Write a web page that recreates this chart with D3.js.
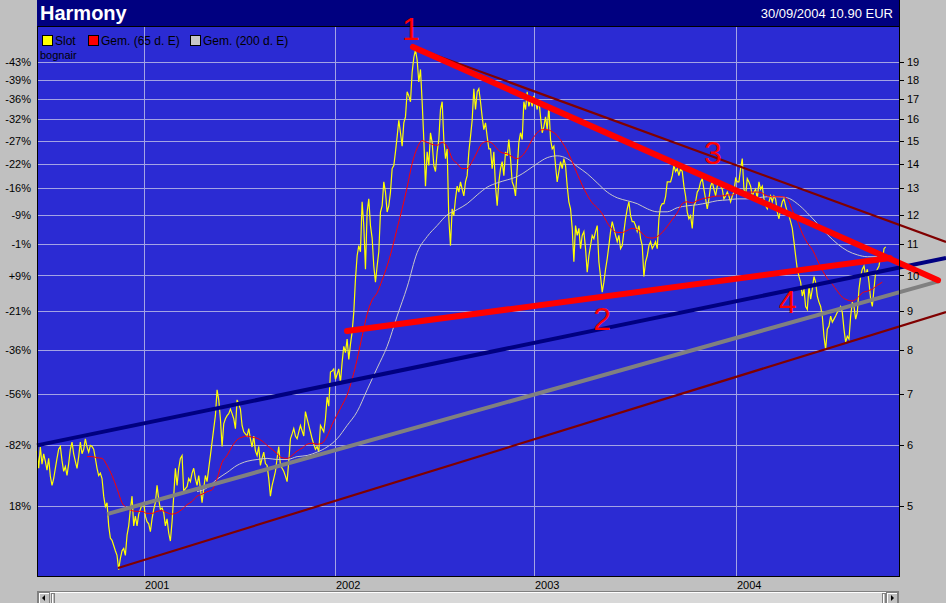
<!DOCTYPE html>
<html><head><meta charset="utf-8">
<script src="https://cdn.jsdelivr.net/npm/d3@7"></script>
<style>
html,body{margin:0;padding:0;background:#c0c0c0;overflow:hidden}
svg{display:block;font-family:"Liberation Sans",Arial,sans-serif}
</style></head><body>
<svg id="chart" width="946" height="603"></svg>
<script>
// ---------------- data ----------------
const title = "Harmony";
const lastQuote = "30/09/2004 10.90 EUR";
const legendItems = ["Slot", "Gem. (65 d. E)", "Gem. (200 d. E)"];
const subLabel = "bognair";
const priceTicks = [19, 18, 17, 16, 15, 14, 13, 12, 11, 10, 9, 8, 7, 6, 5];
const pctLabels = ["-43%", "-39%", "-36%", "-32%", "-27%", "-22%", "-16%", "-9%", "-1%", "+9%", "-21%", "-36%", "-56%", "-82%", "18%"];
const yearLabels = ["2001", "2002", "2003", "2004"];
const yearStartIdx = [64, 179, 298, 419];   // sample index at which each year starts
const sampleCount = 517;                      // samples across the full plot width

// closing price (Slot), one sample per period
const slot = [
5.90,5.60,5.97,5.67,5.85,5.72,5.57,5.77,5.47,5.32,
5.43,5.60,5.77,5.93,5.98,5.73,5.55,5.63,5.48,5.68,
5.93,6.06,5.85,5.72,5.60,5.80,6.06,5.85,5.93,6.12,
5.97,5.88,6.00,5.98,5.93,5.77,5.60,5.48,5.52,5.43,
5.15,4.99,5.05,4.71,4.54,4.51,4.44,4.37,4.31,4.13,
4.27,4.37,4.40,4.31,4.58,4.71,4.95,5.15,4.71,4.85,
4.71,4.88,4.95,5.02,5.05,4.85,4.77,4.74,4.63,4.81,
4.95,5.05,5.32,5.10,4.95,4.97,4.90,4.71,4.81,4.61,
4.50,4.77,5.15,5.60,5.32,5.60,5.77,5.82,5.22,5.27,
5.30,5.43,5.38,5.52,5.60,5.43,5.32,5.48,5.27,5.05,
5.27,5.48,5.38,5.60,5.82,6.06,6.31,6.56,7.09,6.88,
6.50,5.98,6.40,6.50,6.56,6.60,6.69,6.60,6.50,6.31,
6.88,6.79,6.69,6.37,6.25,6.21,6.17,6.31,6.12,5.97,
6.17,5.90,5.82,5.98,5.65,5.77,5.88,5.68,5.65,5.43,
5.15,5.32,5.43,5.55,5.77,5.98,5.65,5.60,5.55,5.47,
5.38,5.72,6.12,6.21,6.31,6.17,6.12,6.25,6.37,6.27,
6.17,6.64,6.50,6.37,6.25,6.12,6.02,5.93,5.98,5.88,
6.37,6.31,6.25,6.50,6.94,6.75,7.48,7.50,7.55,7.32,
7.43,7.55,7.25,7.70,8.08,7.93,8.26,7.77,8.13,8.44,
8.95,9.89,10.61,10.94,10.74,12.48,11.62,10.19,12.10,12.59,
11.62,11.19,10.29,9.80,10.29,10.74,12.10,12.33,13.25,12.85,
12.10,12.33,12.85,13.79,13.92,14.50,15.18,15.95,15.36,14.75,
15.82,16.11,17.37,17.16,16.86,18.42,19.26,19.70,19.11,17.89,
18.58,16.86,15.05,13.08,14.50,13.92,15.36,14.92,13.92,13.67,
14.50,15.05,16.47,16.86,15.05,14.21,14.63,11.86,10.94,12.22,
11.97,12.59,13.08,12.85,13.25,12.96,12.70,13.25,13.50,14.50,
15.18,15.95,17.53,16.47,17.37,17.53,16.86,16.11,15.50,15.82,
15.18,14.63,14.63,13.79,14.50,13.08,12.33,13.25,13.79,14.08,
13.50,14.50,14.33,15.05,14.21,13.25,13.08,12.70,13.79,14.92,
15.36,15.05,16.86,16.47,17.37,16.63,17.00,16.63,17.16,16.86,
16.47,17.00,16.11,15.36,15.64,16.11,15.50,16.63,15.05,14.63,
14.75,13.92,13.25,13.67,14.08,13.79,14.21,13.92,13.08,12.48,
12.22,11.52,10.42,11.62,11.28,11.52,10.84,11.28,11.41,10.84,
10.10,10.61,10.94,11.28,11.17,11.41,11.62,10.42,9.97,9.51,
9.80,10.19,10.52,10.94,11.41,11.76,11.52,11.28,11.07,11.28,
10.84,10.94,11.41,11.86,12.22,12.48,11.97,11.76,11.76,11.62,
11.41,11.62,11.17,10.94,9.97,10.42,10.61,10.94,11.07,10.84,
10.94,11.07,10.84,11.86,12.30,12.41,12.41,12.67,13.25,13.25,
13.25,13.50,13.92,13.67,13.79,13.50,13.79,13.67,13.08,12.70,
12.10,11.86,11.97,11.52,12.33,12.48,12.85,12.96,13.25,13.38,
12.96,12.59,12.22,12.59,13.08,13.25,12.96,12.70,13.08,13.25,
13.08,12.96,12.59,12.70,12.85,12.70,12.48,12.70,12.85,13.38,
13.25,13.25,13.79,14.21,12.96,12.70,13.38,13.25,13.08,12.70,
12.85,12.96,12.59,13.25,12.96,13.08,12.59,12.33,12.22,12.48,
12.70,12.48,12.70,12.59,12.10,11.86,12.22,12.48,12.59,12.33,
12.10,11.97,11.76,11.52,11.07,10.61,10.19,9.97,9.80,9.40,
9.60,9.11,9.03,9.69,9.31,9.60,9.97,9.80,9.40,9.23,
9.11,8.85,8.33,8.00,8.51,8.59,8.85,8.69,8.77,8.85,
8.95,9.03,9.11,8.95,8.51,8.18,8.33,8.26,8.85,9.23,
9.11,8.77,8.95,9.60,9.97,10.19,10.29,9.97,10.19,9.80,
9.31,9.11,9.60,10.10,10.19,10.29,10.61,10.42,10.84,10.90
];

// 65-day exponential average
const gem65Start = 30, gem65Step = 3;
const gem65 = [
5.80,5.80,5.78,5.77,5.65,5.48,5.27,5.05,4.97,4.93,
4.92,4.92,4.89,4.89,4.92,4.93,4.90,4.88,4.90,4.95,
5.02,5.07,5.15,5.18,5.22,5.25,5.43,5.70,5.82,5.98,
6.10,6.15,6.17,6.15,6.13,6.08,6.00,5.93,5.85,5.78,
5.77,5.82,5.90,5.95,6.02,6.04,6.02,6.04,6.17,6.39,
6.58,6.77,6.98,7.32,7.77,8.33,8.90,9.29,9.49,9.86,
10.29,10.84,11.52,12.22,13.04,14.00,14.67,15.00,14.92,14.83,
14.79,14.92,14.75,14.21,14.00,13.79,13.79,14.08,14.50,14.88,
14.96,14.88,14.63,14.46,14.42,14.29,14.21,14.33,14.63,15.05,
15.36,15.50,15.50,15.41,15.23,14.92,14.54,14.08,13.58,13.12,
12.74,12.44,12.26,12.04,11.72,11.48,11.38,11.38,11.45,11.52,
11.48,11.35,11.21,11.19,11.24,11.38,11.59,11.83,12.07,12.41,
12.48,12.44,12.52,12.59,12.63,12.67,12.70,12.70,12.74,12.74,
12.81,12.85,12.85,12.85,12.85,12.81,12.70,12.67,12.67,12.67,
12.59,12.17,11.79,11.35,11.03,10.81,10.48,10.16,9.91,9.74,
9.54,9.37,9.29,9.26,9.34,9.49,9.54,9.60,9.71,9.80
];

// 200-day exponential average
const gem200Start = 96, gem200Step = 6;
const gem200 = [
5.22,5.28,5.42,5.53,5.65,5.72,5.75,5.77,5.75,5.75,
5.80,5.82,5.88,5.97,6.12,6.37,6.64,7.09,7.57,8.08,
8.85,9.66,10.71,11.24,11.62,12.00,12.19,12.41,12.74,13.04,
13.21,13.33,13.46,13.71,14.00,14.25,14.33,14.21,13.88,13.58,
13.21,12.85,12.63,12.52,12.41,12.22,12.11,12.11,12.26,12.33,
12.37,12.44,12.52,12.55,12.59,12.59,12.63,12.67,12.67,12.63,
12.41,12.07,11.69,11.31,11.00,10.77,10.64,10.58,10.58
];

// hand-drawn trend lines: [sampleIndex, price] end points
const lineRed1 = [[225.5, 19.88], [540.4, 9.86]];
const lineRed2 = [[185.9, 8.46], [511.6, 10.54]];
const lineMaroonTop = [[225.5, 19.88], [545.2, 11.06]];
const lineMaroonBottom = [[48.6, 4.15], [545.2, 8.96]];
const lineNavy = [[0, 6.00], [545.2, 10.54]];
const lineGray = [[42, 4.88], [541.6, 9.84]];

// wave count annotations
const waveText = ["1", "2", "3", "4"];
const waveIdx = [224.3, 338.9, 405.4, 450.2];
const wavePrice = [20.30, 8.49, 13.98, 8.93];

// ---------------- drawing ----------------
const W = 946, H = 603;
const L = 37, R = 899, T = 27, B = 576;
const COL = {
  bg: "#c0c0c0", header: "#000080", plot: "#2b2bd3", grid: "#a4a4e4",
  slot: "#ffff00", g65: "#ff0000", g200: "#c8c8c8"
};

const svg = d3.select("#chart");
const x = d3.scaleLinear().domain([0, sampleCount]).range([L, R]);
const y = d3.scaleLog().domain([5, 19]).range([506, 62]);

svg.append("rect").attr("width", W).attr("height", H).attr("fill", COL.bg);
svg.append("rect").attr("x", L).attr("y", 0).attr("width", R - L).attr("height", T).attr("fill", COL.header);
svg.append("rect").attr("x", L).attr("y", T).attr("width", R - L).attr("height", B - T).attr("fill", COL.plot);

// grid
const grid = svg.append("g").attr("shape-rendering", "crispEdges");
grid.selectAll("line.h").data(priceTicks).join("line")
  .attr("x1", L).attr("x2", R)
  .attr("y1", d => Math.round(y(d)) + 0.5).attr("y2", d => Math.round(y(d)) + 0.5)
  .attr("stroke", COL.grid).attr("stroke-width", 1);
grid.selectAll("line.v").data(yearStartIdx).join("line")
  .attr("x1", d => Math.round(x(d)) + 0.5).attr("x2", d => Math.round(x(d)) + 0.5)
  .attr("y1", T).attr("y2", B)
  .attr("stroke", COL.grid).attr("stroke-width", 1);

// legend
const lg = svg.append("g").attr("font-size", 12).attr("fill", "#000");
const legendX = [42, 88, 190];
const legendCol = [COL.slot, COL.g65, COL.g200];
legendItems.forEach((t, i) => {
  lg.append("rect").attr("x", legendX[i] + 0.5).attr("y", 35.5).attr("width", 10).attr("height", 10)
    .attr("fill", legendCol[i]).attr("stroke", "#000").attr("stroke-width", 1);
  lg.append("text").attr("x", legendX[i] + 13).attr("y", 45).text(t);
});
svg.append("text").attr("x", 40).attr("y", 59).attr("font-size", 11).attr("fill", "#000").text(subLabel);

// series
const line = d3.line().x(d => x(d[0])).y(d => y(d[1]));
const smooth = d3.line().x(d => x(d[0])).y(d => y(d[1])).curve(d3.curveMonotoneX);
const slotPts = slot.map((v, i) => [i, v]);
const g65Pts = gem65.map((v, i) => [gem65Start + i * gem65Step, v]);
const g200Pts = gem200.map((v, i) => [gem200Start + i * gem200Step, v]);

svg.append("path").datum(slotPts).attr("d", line).attr("fill", "none")
  .attr("stroke", COL.slot).attr("stroke-width", 1.2);
svg.append("path").datum(g200Pts).attr("d", smooth).attr("fill", "none")
  .attr("stroke", COL.g200).attr("stroke-width", 1);
svg.append("path").datum(g65Pts).attr("d", smooth).attr("fill", "none")
  .attr("stroke", COL.g65).attr("stroke-width", 1);

// trend lines
function trend(pts, color, w, cap) {
  svg.append("path").datum(pts).attr("d", line).attr("fill", "none")
    .attr("stroke", color).attr("stroke-width", w).attr("stroke-linecap", cap || "butt");
}
trend(lineMaroonTop, "#800000", 2.2);
trend(lineMaroonBottom, "#800000", 2.2);
trend(lineNavy, "#000080", 4);
trend(lineGray, "#808080", 4);
trend(lineRed2, "#ff0000", 6, "round");
trend(lineRed1, "#ff0000", 6, "round");

// border
svg.append("g").attr("shape-rendering", "crispEdges").call(g => {
  g.append("line").attr("x1", L).attr("x2", R + 1).attr("y1", T - 0.5).attr("y2", T - 0.5).attr("stroke", "#000");
  g.append("line").attr("x1", L + 0.5).attr("x2", L + 0.5).attr("y1", T).attr("y2", B + 1).attr("stroke", "#000");
  g.append("line").attr("x1", R + 0.5).attr("x2", R + 0.5).attr("y1", 0).attr("y2", B + 1).attr("stroke", "#000");
  g.append("line").attr("x1", L).attr("x2", R + 1).attr("y1", B + 0.5).attr("y2", B + 0.5).attr("stroke", "#000");
});

// right axis (price)
const ra = svg.append("g").attr("transform", `translate(${R + 1},0)`)
  .call(d3.axisRight(y).tickValues(priceTicks).tickFormat(d3.format("d")).tickSize(4).tickPadding(3));
ra.select(".domain").remove();
ra.selectAll("text").attr("font-size", 11).attr("font-family", "Liberation Sans, Arial, sans-serif").attr("fill", "#000");
ra.selectAll("line").attr("stroke", "#000").attr("shape-rendering", "crispEdges");

// left axis (percent labels)
const la = svg.append("g").attr("transform", `translate(${L},0)`)
  .call(d3.axisLeft(y).tickValues(priceTicks).tickFormat((d, i) => pctLabels[i]).tickSize(0).tickPadding(6));
la.select(".domain").remove();
la.selectAll("text").attr("font-size", 11).attr("font-family", "Liberation Sans, Arial, sans-serif").attr("fill", "#000");

// x axis labels
svg.append("g").selectAll("text").data(yearLabels).join("text")
  .attr("x", (d, i) => Math.round(x(yearStartIdx[i])) + 1).attr("y", 589)
  .attr("font-size", 11).attr("fill", "#000").text(d => d);

// wave labels
svg.append("g").selectAll("text").data(waveText).join("text")
  .attr("x", (d, i) => x(waveIdx[i])).attr("y", (d, i) => y(wavePrice[i]))
  .attr("text-anchor", "middle").attr("font-size", 32).attr("fill", "#ff0000").text(d => d);

// header texts
svg.append("text").attr("x", 40).attr("y", 20).attr("font-size", 20).attr("font-weight", "bold")
  .attr("fill", "#fff").text(title);
svg.append("text").attr("x", 893).attr("y", 18).attr("font-size", 13).attr("text-anchor", "end")
  .attr("fill", "#fff").text(lastQuote);

// scrollbar
const sb = svg.append("g").attr("shape-rendering", "crispEdges");
sb.append("rect").attr("x", L + 0.5).attr("y", 591.5).attr("width", R - L - 1).attr("height", 13)
  .attr("fill", "#d8d8d8").attr("stroke", "#808080");
sb.append("line").attr("x1", L + 13).attr("x2", R - 13).attr("y1", 592.5).attr("y2", 592.5).attr("stroke", "#fff");
function btn(bx) {
  sb.append("rect").attr("x", bx + 0.5).attr("y", 592.5).attr("width", 11).attr("height", 12)
    .attr("fill", "#c0c0c0").attr("stroke", "#808080");
  sb.append("line").attr("x1", bx + 1).attr("x2", bx + 11).attr("y1", 593.5).attr("y2", 593.5).attr("stroke", "#fff");
  sb.append("line").attr("x1", bx + 1.5).attr("x2", bx + 1.5).attr("y1", 593).attr("y2", 604).attr("stroke", "#fff");
}
btn(L + 1); btn(R - 13);
sb.append("path").attr("d", `M${L + 5},598 L${L + 8},595 L${L + 8},601 Z`).attr("fill", "#000").attr("shape-rendering", "auto");
sb.append("path").attr("d", `M${R - 5},598 L${R - 8},595 L${R - 8},601 Z`).attr("fill", "#000").attr("shape-rendering", "auto");
[L + 14, R - 17].forEach(tx => {
  sb.append("rect").attr("x", tx + 0.5).attr("y", 593.5).attr("width", 3).attr("height", 10)
    .attr("fill", "#c0c0c0").attr("stroke", "#808080");
  sb.append("line").attr("x1", tx + 1.5).attr("x2", tx + 1.5).attr("y1", 594).attr("y2", 603).attr("stroke", "#fff");
});
</script>
</body></html>
